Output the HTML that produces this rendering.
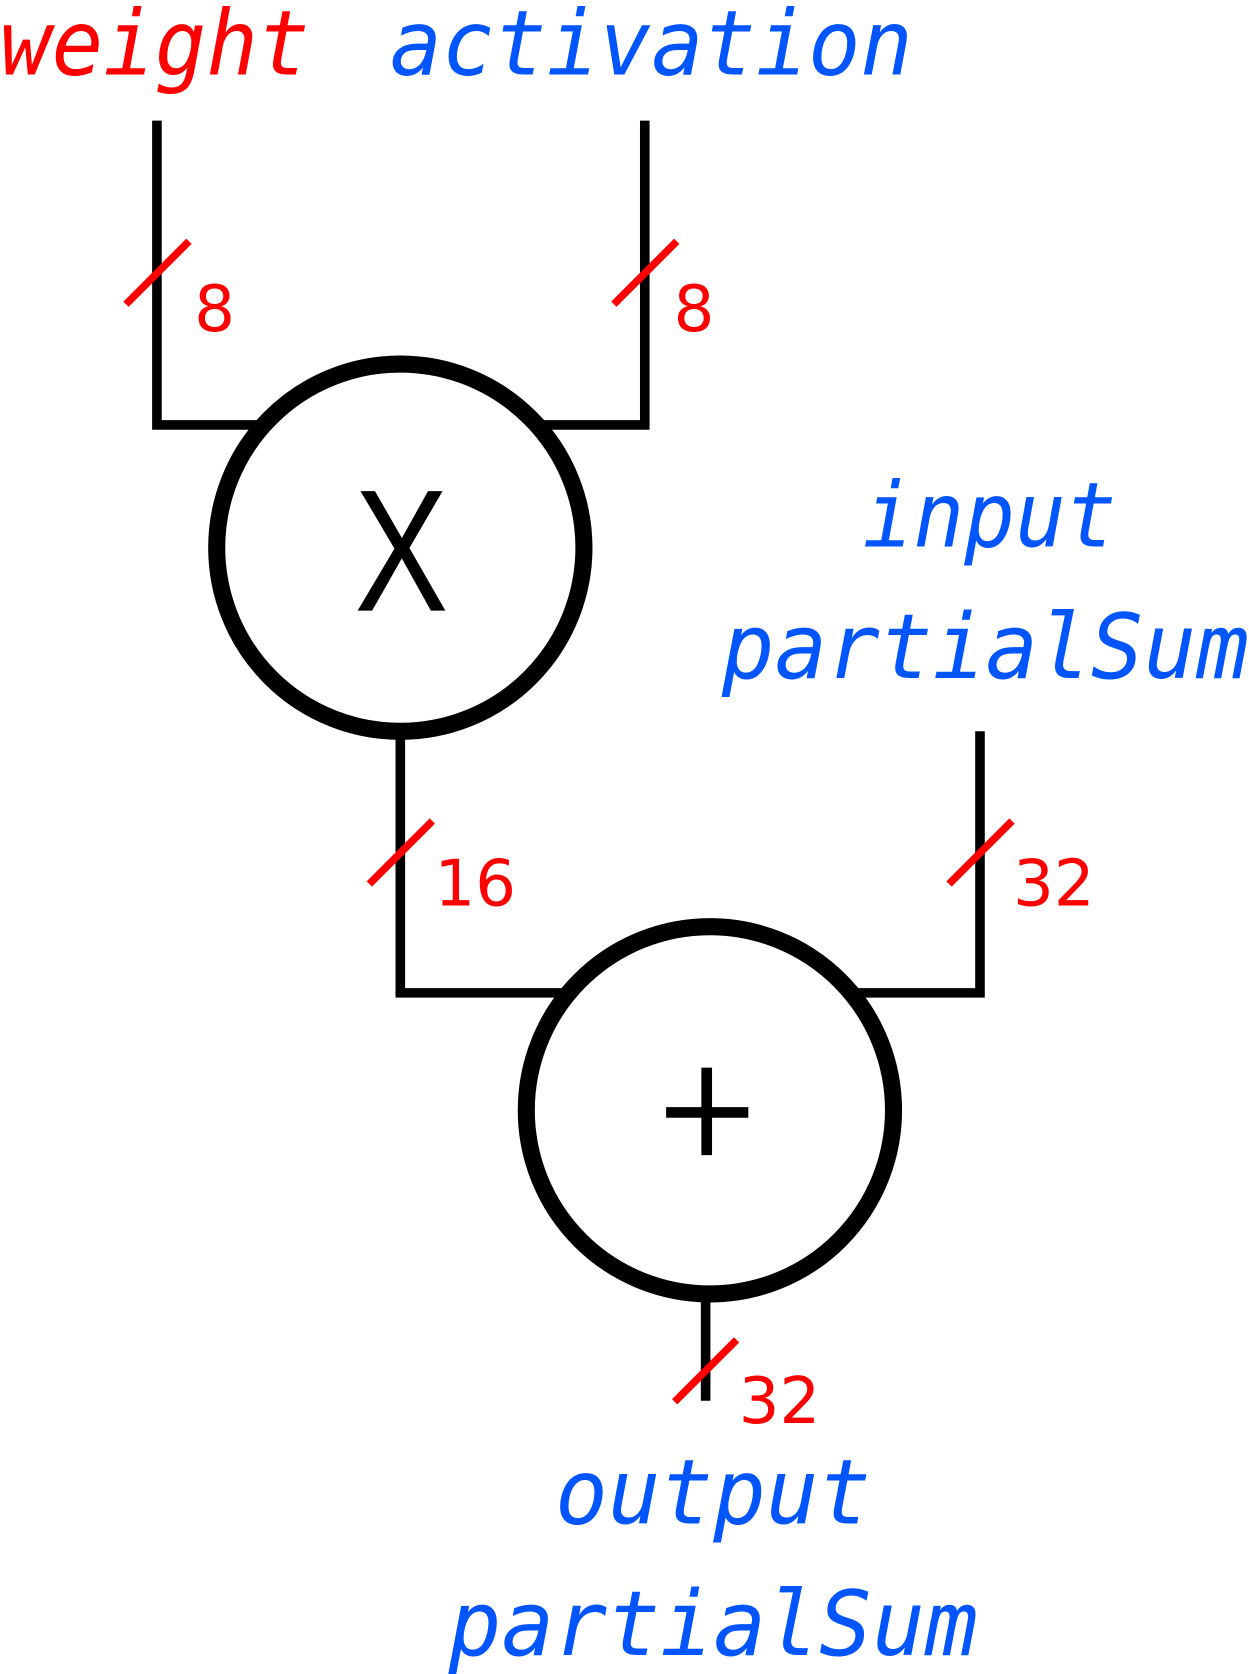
<!DOCTYPE html>
<html><head><meta charset="utf-8"><style>html,body{margin:0;padding:0;background:#fff}svg{display:block}</style></head>
<body>
<svg width="1249" height="1674" viewBox="0 0 1170 1568" preserveAspectRatio="none" xmlns="http://www.w3.org/2000/svg">
<g fill="none" stroke="#000" stroke-width="9">
<polyline points="147,113 147,398 242,398"/>
<polyline points="604,113 604,398 508,398"/>
<polyline points="375,688 375,930 528,930"/>
<polyline points="918,685 918,930 802,930"/>
<line x1="661" y1="1215" x2="661" y2="1312"/>
<circle cx="375" cy="513" r="172" stroke-width="16" fill="#fff"/>
<circle cx="665" cy="1040" r="172" stroke-width="16" fill="#fff"/>
</g>
<text transform="translate(376,572) scale(0.85,1.05)" text-anchor="middle" font-family="Liberation Sans, sans-serif" font-size="155">X</text>
<g stroke="#000" stroke-width="10">
<line x1="624" y1="1042" x2="701" y2="1042"/>
<line x1="662" y1="1000" x2="662" y2="1082"/>
</g>
<g stroke="#ff0000" stroke-width="7">
<line x1="118" y1="285" x2="177" y2="226"/>
<line x1="575" y1="285" x2="634" y2="226"/>
<line x1="346" y1="828" x2="405" y2="769"/>
<line x1="889" y1="828" x2="948" y2="769"/>
<line x1="632" y1="1313" x2="690" y2="1255"/>
</g>
<g fill="#ff0000" font-family="DejaVu Sans, sans-serif" font-size="60">
<text x="182" y="310">8</text>
<text x="631" y="310">8</text>
<text x="407" y="848">16</text>
<text x="949" y="848">32</text>
<text x="692" y="1333">32</text>
</g>
<g font-family="DejaVu Sans Mono, Liberation Mono, monospace" font-style="italic" font-size="84">
<text x="0" y="70" fill="#ff0000" textLength="290" lengthAdjust="spacingAndGlyphs">weight</text>
<text x="365" y="70" fill="#0055ff" textLength="490" lengthAdjust="spacingAndGlyphs">activation</text>
<text x="808" y="512" fill="#0055ff" textLength="238" lengthAdjust="spacingAndGlyphs">input</text>
<text x="676" y="635" fill="#0055ff" textLength="494" lengthAdjust="spacingAndGlyphs">partialSum</text>
<text x="520" y="1427" fill="#0055ff" textLength="296" lengthAdjust="spacingAndGlyphs">output</text>
<text x="420" y="1550" fill="#0055ff" textLength="496" lengthAdjust="spacingAndGlyphs">partialSum</text>
</g>
</svg>
</body></html>
